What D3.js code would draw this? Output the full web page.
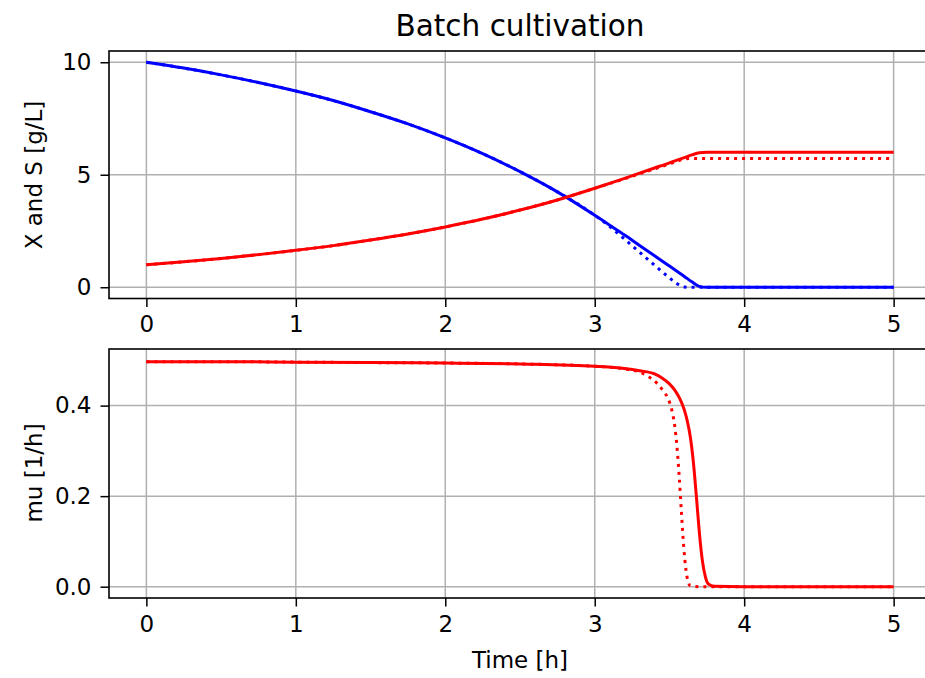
<!DOCTYPE html>
<html>
<head>
<meta charset="utf-8">
<script src="https://cdn.jsdelivr.net/npm/d3@7"></script>
<style>
  body { margin: 0; background: #fff; }
  text { font-family: "DejaVu Sans", sans-serif; fill: #000; }
</style>
</head>
<body>
<div id="viz"></div>
<script>
// time grid for X and S (hours)
const times = [0, 0.25, 0.5, 0.75, 1, 1.25, 1.5, 1.75, 2, 2.25, 2.5, 2.75, 3,
  3.1, 3.2, 3.3, 3.4, 3.5, 3.55, 3.6, 3.65, 3.7, 3.75, 3.8, 4, 4.5, 5];

// biomass X [g/L]
const xSolid = [1.00, 1.13, 1.28, 1.45, 1.64, 1.85, 2.10, 2.37, 2.68, 3.03, 3.43, 3.88, 4.40,
  4.62, 4.84, 5.07, 5.30, 5.53, 5.65, 5.76, 5.88, 5.98, 6.00, 6.00, 6.00, 6.00, 6.00];
const xDotted = [1.00, 1.13, 1.28, 1.45, 1.64, 1.85, 2.10, 2.37, 2.68, 3.03, 3.43, 3.88, 4.40,
  4.61, 4.82, 5.04, 5.26, 5.48, 5.60, 5.70, 5.72, 5.72, 5.72, 5.72, 5.72, 5.72, 5.72];

// substrate S [g/L]
const sSolid = [10.00, 9.74, 9.44, 9.10, 8.72, 8.30, 7.80, 7.26, 6.64, 5.94, 5.14, 4.24, 3.20,
  2.76, 2.32, 1.86, 1.40, 0.94, 0.71, 0.48, 0.24, 0.04, 0.00, 0.00, 0.00, 0.00, 0.00];
const sDotted = [10.00, 9.74, 9.44, 9.10, 8.72, 8.30, 7.80, 7.26, 6.64, 5.94, 5.14, 4.24, 3.20,
  2.70, 2.14, 1.56, 0.98, 0.42, 0.16, 0.01, 0.00, 0.00, 0.00, 0.00, 0.00, 0.00, 0.00];

// specific growth rate mu [1/h]
const muTimesSolid = [0, 0.5, 1, 1.5, 2, 2.5, 3, 3.2, 3.3, 3.4, 3.45, 3.5, 3.54, 3.57, 3.6,
  3.62, 3.64, 3.66, 3.68, 3.7, 3.72, 3.74, 3.76, 3.8, 4, 5];
const muSolid = [0.497, 0.497, 0.496, 0.495, 0.494, 0.492, 0.487, 0.482, 0.477, 0.470, 0.461,
  0.448, 0.432, 0.415, 0.390, 0.365, 0.330, 0.275, 0.200, 0.120, 0.058, 0.022, 0.006, 0.001,
  0, 0];
const muTimesDotted = [0, 0.5, 1, 1.5, 2, 2.5, 3, 3.2, 3.3, 3.36, 3.42, 3.46, 3.49, 3.505, 3.52,
  3.535, 3.55, 3.565, 3.58, 3.595, 3.61, 3.625, 3.64, 3.7, 5];
const muDotted = [0.497, 0.497, 0.496, 0.495, 0.494, 0.492, 0.487, 0.481, 0.474, 0.464, 0.448,
  0.432, 0.416, 0.403, 0.384, 0.356, 0.310, 0.245, 0.165, 0.090, 0.038, 0.011, 0.002, 0, 0];

const xTicks = [0, 1, 2, 3, 4, 5];
const topTicks = [0, 5, 10];
const botTicks = [0, 0.2, 0.4];

const width = 925, height = 678;
const fs = 23;

let svg = d3.select('#viz').append('svg')
  .attr('width', width)
  .attr('height', height);

let x = d3.scaleLinear().domain([-0.25, 5.25]).range([109, 931]);
let yTop = d3.scaleLinear().domain([-0.5, 10.5]).range([298.5, 51]);
let yBot = d3.scaleLinear().domain([-0.025, 0.525]).range([598, 349]);

function buildPanel(y, yTicks, yFmt, id) {
  let [bottom, top] = y.range();
  let left = x.range()[0], right = x.range()[1];

  svg.append('defs').append('clipPath')
    .attr('id', id)
    .append('rect')
    .attr('x', left).attr('y', top)
    .attr('width', right - left).attr('height', bottom - top);

  let grid = svg.append('g').attr('class', 'grid');
  grid.selectAll('line.v')
    .data(xTicks).enter().append('line')
    .attr('x1', d => x(d)).attr('x2', d => x(d))
    .attr('y1', top).attr('y2', bottom)
    .attr('stroke', '#b0b0b0').attr('stroke-width', 1.5);
  grid.selectAll('line.h')
    .data(yTicks).enter().append('line')
    .attr('x1', left).attr('x2', right)
    .attr('y1', d => y(d)).attr('y2', d => y(d))
    .attr('stroke', '#b0b0b0').attr('stroke-width', 1.5);

  let plot = svg.append('g').attr('clip-path', `url(#${id})`);

  let xAxis = svg.append('g')
    .attr('transform', `translate(0,${bottom})`)
    .call(d3.axisBottom(x).tickValues(xTicks).tickFormat(d3.format('d'))
      .tickSize(8.5).tickPadding(9));
  let yAxis = svg.append('g')
    .attr('transform', `translate(${left},0)`)
    .call(d3.axisLeft(y).tickValues(yTicks).tickFormat(yFmt)
      .tickSize(8.5).tickPadding(9));

  [xAxis, yAxis].forEach(a => {
    a.select('.domain').remove();
    a.selectAll('line').attr('stroke', '#000').attr('stroke-width', 1.5);
    a.selectAll('text')
      .style('font-family', '"DejaVu Sans", sans-serif')
      .style('font-size', fs + 'px')
      .attr('fill', '#000');
  });

  svg.append('rect')
    .attr('x', left).attr('y', top)
    .attr('width', right - left).attr('height', bottom - top)
    .attr('fill', 'none').attr('stroke', '#000').attr('stroke-width', 1.6);

  return plot;
}

function drawLine(g, xs, ys, y, color, dotted) {
  let line = d3.line()
    .x((d, i) => x(xs[i]))
    .y(d => y(d))
    .curve(d3.curveMonotoneX);
  let path = g.append('path')
    .datum(ys)
    .attr('d', line)
    .attr('fill', 'none')
    .attr('stroke', color)
    .attr('stroke-width', 3);
  if (dotted) path.attr('stroke-dasharray', '3,5');
}

let topPlot = buildPanel(yTop, topTicks, d3.format('d'), 'clip-top');
drawLine(topPlot, times, sDotted, yTop, '#0000ff', true);
drawLine(topPlot, times, xDotted, yTop, '#ff0000', true);
drawLine(topPlot, times, sSolid, yTop, '#0000ff', false);
drawLine(topPlot, times, xSolid, yTop, '#ff0000', false);

let botPlot = buildPanel(yBot, botTicks, d3.format('.1f'), 'clip-bot');
drawLine(botPlot, muTimesDotted, muDotted, yBot, '#ff0000', true);
drawLine(botPlot, muTimesSolid, muSolid, yBot, '#ff0000', false);

svg.append('text')
  .text('Batch cultivation')
  .attr('x', 520).attr('y', 36)
  .attr('text-anchor', 'middle')
  .style('font-size', '29.5px');

svg.append('text')
  .text('Time [h]')
  .attr('x', 520).attr('y', 668)
  .attr('text-anchor', 'middle')
  .style('font-size', fs + 'px');

svg.append('text')
  .text('X and S [g/L]')
  .attr('transform', `translate(42,175) rotate(-90)`)
  .attr('text-anchor', 'middle')
  .style('font-size', fs + 'px');

svg.append('text')
  .text('mu [1/h]')
  .attr('transform', `translate(42,473) rotate(-90)`)
  .attr('text-anchor', 'middle')
  .style('font-size', fs + 'px');
</script>
</body>
</html>
